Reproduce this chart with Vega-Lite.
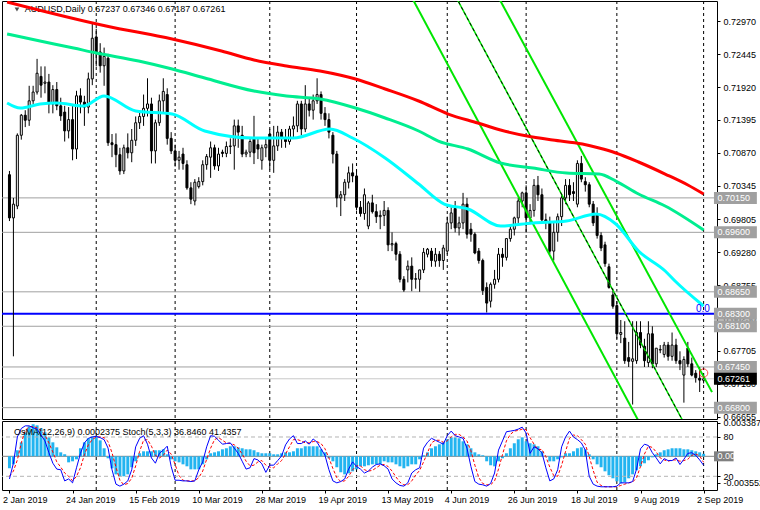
{
"$schema":"https://vega.github.io/schema/vega-lite/v6.json",
"padding":0,
"background":"white",
"spacing":2,
"bounds":"flush",
"config":{"view":{"stroke":"#000000","strokeWidth":1},"font":"Liberation Sans","axis":{"labelFont":"Liberation Sans","labelFontSize":9,"labelColor":"#000000","tickColor":"#000000","tickSize":3,"domain":false,"grid":false}},
"datasets":{
"months":[{"i":22},{"i":42},{"i":66},{"i":88},{"i":111},{"i":131},{"i":154},{"i":176}],
"levels":[{"v":0.7015,"t":"0.70150","kind":"level"},{"v":0.696,"t":"0.69600","kind":"level"},{"v":0.6865,"t":"0.68650","kind":"level"},{"v":0.683,"t":"0.68300","kind":"fib"},{"v":0.681,"t":"0.68100","kind":"level"},{"v":0.6745,"t":"0.67450","kind":"level"},{"v":0.668,"t":"0.66800","kind":"level"},{"v":0.67261,"t":"0.67261","kind":"price"}],
"chan":[{"ln":"a","i":100,"p":0.73588},{"ln":"a","i":162,"p":0.66293},{"ln":"b","i":122,"p":0.73585},{"ln":"b","i":178.125,"p":0.67048},{"ln":"c","i":111,"p":0.73618},{"ln":"c","i":173,"p":0.66322}],
"ma":[
{"ser":"slow","i":-0.6,"v":0.73278},{"ser":"slow","i":24.5,"v":0.72895},{"ser":"slow","i":41.25,"v":0.72687},{"ser":"slow","i":53.75,"v":0.72496},{"ser":"slow","i":62,"v":0.72352},{"ser":"slow","i":70.25,"v":0.72256},{"ser":"slow","i":78.75,"v":0.72176},{"ser":"slow","i":87.75,"v":0.72048},{"ser":"slow","i":95.25,"v":0.71889},{"ser":"slow","i":103.75,"v":0.71697},{"ser":"slow","i":111.25,"v":0.71489},{"ser":"slow","i":118.75,"v":0.71346},{"ser":"slow","i":124.5,"v":0.71234},{"ser":"slow","i":131.25,"v":0.71138},{"ser":"slow","i":137.75,"v":0.71074},{"ser":"slow","i":145.25,"v":0.7101},{"ser":"slow","i":149.5,"v":0.70946},{"ser":"slow","i":153.75,"v":0.70867},{"ser":"slow","i":159.5,"v":0.70723},{"ser":"slow","i":166.25,"v":0.70531},{"ser":"slow","i":172,"v":0.70356},{"ser":"slow","i":176,"v":0.70212},
{"ser":"mid","i":-0.6,"v":0.72767},{"ser":"mid","i":7.75,"v":0.72655},{"ser":"mid","i":16.25,"v":0.72543},{"ser":"mid","i":22,"v":0.72464},{"ser":"mid","i":32.75,"v":0.72336},{"ser":"mid","i":41.25,"v":0.72208},{"ser":"mid","i":49.5,"v":0.72064},{"ser":"mid","i":62,"v":0.71857},{"ser":"mid","i":70.25,"v":0.71777},{"ser":"mid","i":78.75,"v":0.71729},{"ser":"mid","i":87.75,"v":0.71585},{"ser":"mid","i":95.25,"v":0.71426},{"ser":"mid","i":103.75,"v":0.71218},{"ser":"mid","i":108.75,"v":0.71058},{"ser":"mid","i":116.25,"v":0.7093},{"ser":"mid","i":124.5,"v":0.70707},{"ser":"mid","i":132.75,"v":0.70627},{"ser":"mid","i":141.25,"v":0.70547},{"ser":"mid","i":149.5,"v":0.70531},{"ser":"mid","i":153.75,"v":0.70419},{"ser":"mid","i":159.5,"v":0.70212},{"ser":"mid","i":166.25,"v":0.7002},{"ser":"mid","i":176,"v":0.69637},
{"ser":"fast","i":-0.6,"v":0.71665},{"ser":"fast","i":2.75,"v":0.71585},{"ser":"fast","i":7.75,"v":0.71649},{"ser":"fast","i":12,"v":0.71665},{"ser":"fast","i":18.75,"v":0.71617},{"ser":"fast","i":24,"v":0.71777},{"ser":"fast","i":32,"v":0.71537},{"ser":"fast","i":41.25,"v":0.71489},{"ser":"fast","i":49.5,"v":0.71218},{"ser":"fast","i":62,"v":0.71106},{"ser":"fast","i":72,"v":0.71106},{"ser":"fast","i":81.25,"v":0.7125},{"ser":"fast","i":87,"v":0.71106},{"ser":"fast","i":95.25,"v":0.70787},{"ser":"fast","i":103.75,"v":0.70372},{"ser":"fast","i":110.25,"v":0.70052},{"ser":"fast","i":116.25,"v":0.69972},{"ser":"fast","i":124.5,"v":0.69701},{"ser":"fast","i":132.75,"v":0.69749},{"ser":"fast","i":141.25,"v":0.69781},{"ser":"fast","i":148.75,"v":0.69892},{"ser":"fast","i":153.75,"v":0.69733},{"ser":"fast","i":159.5,"v":0.69301},{"ser":"fast","i":166.25,"v":0.68982},{"ser":"fast","i":168.75,"v":0.68822},{"ser":"fast","i":176,"v":0.68423}
],
"bars":[
{"i":0,"o":0.7052,"h":0.7058,"l":0.6978,"c":0.6983,"m":-0.00115,"k":16,"s":20},
{"i":1,"o":0.6983,"h":0.7015,"l":0.6762,"c":0.7005,"m":-0.00077,"k":40,"s":28},
{"i":2,"o":0.7002,"h":0.7118,"l":0.6997,"c":0.7115,"m":0.00058,"k":80,"s":45},
{"i":3,"o":0.7115,"h":0.7149,"l":0.7108,"c":0.7147,"m":0.00134,"k":93,"s":71},
{"i":4,"o":0.7147,"h":0.7155,"l":0.7128,"c":0.7139,"m":0.0023,"k":97,"s":90},
{"i":5,"o":0.7139,"h":0.7194,"l":0.713,"c":0.717,"m":0.00288,"k":97,"s":96},
{"i":6,"o":0.717,"h":0.7194,"l":0.7165,"c":0.7184,"m":0.00307,"k":94,"s":96},
{"i":7,"o":0.7184,"h":0.7237,"l":0.718,"c":0.7214,"m":0.00297,"k":92,"s":94},
{"i":8,"o":0.7209,"h":0.7225,"l":0.7175,"c":0.7195,"m":0.00269,"k":83,"s":90},
{"i":9,"o":0.7198,"h":0.7225,"l":0.7182,"c":0.72,"m":0.0023,"k":74,"s":83},
{"i":10,"o":0.72,"h":0.7213,"l":0.715,"c":0.7165,"m":0.00182,"k":56,"s":71},
{"i":11,"o":0.7165,"h":0.7195,"l":0.715,"c":0.7188,"m":0.00134,"k":40,"s":57},
{"i":12,"o":0.7188,"h":0.72,"l":0.7155,"c":0.7162,"m":0.00086,"k":31,"s":42},
{"i":13,"o":0.7162,"h":0.7175,"l":0.7138,"c":0.7146,"m":0.00038,"k":30,"s":34},
{"i":14,"o":0.7152,"h":0.7162,"l":0.7105,"c":0.7122,"m":0.00019,"k":13,"s":25},
{"i":15,"o":0.7122,"h":0.716,"l":0.711,"c":0.714,"m":-0.00058,"k":16,"s":20},
{"i":16,"o":0.714,"h":0.7165,"l":0.7075,"c":0.7093,"m":-0.00048,"k":10,"s":13},
{"i":17,"o":0.7093,"h":0.7186,"l":0.7077,"c":0.7178,"m":-0.00029,"k":33,"s":20},
{"i":18,"o":0.7178,"h":0.719,"l":0.715,"c":0.7168,"m":0.00077,"k":55,"s":33},
{"i":19,"o":0.7168,"h":0.7178,"l":0.713,"c":0.716,"m":0.00134,"k":71,"s":53},
{"i":20,"o":0.716,"h":0.7215,"l":0.715,"c":0.7205,"m":0.00173,"k":78,"s":68},
{"i":21,"o":0.7205,"h":0.7294,"l":0.7195,"c":0.727,"m":0.00192,"k":80,"s":76},
{"i":22,"o":0.7272,"h":0.7285,"l":0.7225,"c":0.7245,"m":0.00192,"k":81,"s":80},
{"i":23,"o":0.7248,"h":0.7262,"l":0.7215,"c":0.7226,"m":0.00153,"k":79,"s":80},
{"i":24,"o":0.7226,"h":0.7255,"l":0.7194,"c":0.7241,"m":0.00077,"k":76,"s":79},
{"i":25,"o":0.7238,"h":0.7245,"l":0.7098,"c":0.7103,"m":-0.00019,"k":63,"s":73},
{"i":26,"o":0.7103,"h":0.7117,"l":0.708,"c":0.71,"m":-0.00115,"k":30,"s":56},
{"i":27,"o":0.71,"h":0.7118,"l":0.7064,"c":0.7084,"m":-0.00173,"k":8,"s":34},
{"i":28,"o":0.7084,"h":0.7095,"l":0.7052,"c":0.7058,"m":-0.00192,"k":5,"s":14},
{"i":29,"o":0.7058,"h":0.71,"l":0.7053,"c":0.7095,"m":-0.00192,"k":8,"s":7},
{"i":30,"o":0.7095,"h":0.7118,"l":0.7078,"c":0.7087,"m":-0.00173,"k":13,"s":9},
{"i":31,"o":0.7087,"h":0.7125,"l":0.7072,"c":0.7107,"m":-0.00105,"k":30,"s":17},
{"i":32,"o":0.7107,"h":0.7145,"l":0.7098,"c":0.7135,"m":-0.00048,"k":65,"s":36},
{"i":33,"o":0.7135,"h":0.7155,"l":0.7125,"c":0.7145,"m":0.00029,"k":78,"s":58},
{"i":34,"o":0.7145,"h":0.718,"l":0.713,"c":0.7158,"m":0.00048,"k":82,"s":75},
{"i":35,"o":0.7158,"h":0.7206,"l":0.7145,"c":0.7165,"m":0.00048,"k":69,"s":76},
{"i":36,"o":0.7165,"h":0.7175,"l":0.707,"c":0.709,"m":0.00048,"k":48,"s":66},
{"i":37,"o":0.709,"h":0.714,"l":0.707,"c":0.7135,"m":0.00058,"k":40,"s":52},
{"i":38,"o":0.7135,"h":0.718,"l":0.713,"c":0.717,"m":0.00058,"k":55,"s":48},
{"i":39,"o":0.717,"h":0.7206,"l":0.715,"c":0.7185,"m":0.00067,"k":60,"s":52},
{"i":40,"o":0.718,"h":0.719,"l":0.71,"c":0.711,"m":0.00019,"k":66,"s":60},
{"i":41,"o":0.711,"h":0.712,"l":0.7085,"c":0.709,"m":-0.00029,"k":35,"s":54},
{"i":42,"o":0.709,"h":0.71,"l":0.7065,"c":0.7075,"m":-0.00048,"k":14,"s":38},
{"i":43,"o":0.7075,"h":0.709,"l":0.706,"c":0.708,"m":-0.00058,"k":14,"s":21},
{"i":44,"o":0.7085,"h":0.7095,"l":0.706,"c":0.707,"m":-0.00077,"k":13,"s":14},
{"i":45,"o":0.7068,"h":0.7075,"l":0.7028,"c":0.7031,"m":-0.00096,"k":13,"s":13},
{"i":46,"o":0.7031,"h":0.704,"l":0.7005,"c":0.7013,"m":-0.00125,"k":12,"s":13},
{"i":47,"o":0.701,"h":0.7045,"l":0.7003,"c":0.704,"m":-0.00125,"k":13,"s":13},
{"i":48,"o":0.7033,"h":0.7048,"l":0.703,"c":0.7041,"m":-0.00125,"k":30,"s":18},
{"i":49,"o":0.7041,"h":0.7075,"l":0.7035,"c":0.7068,"m":-0.00077,"k":42,"s":28},
{"i":50,"o":0.7068,"h":0.7085,"l":0.706,"c":0.7081,"m":-0.00029,"k":65,"s":46},
{"i":51,"o":0.708,"h":0.7105,"l":0.7047,"c":0.7095,"m":0.00029,"k":82,"s":63},
{"i":52,"o":0.7095,"h":0.71,"l":0.706,"c":0.7066,"m":0.00038,"k":81,"s":76},
{"i":53,"o":0.7066,"h":0.7095,"l":0.7058,"c":0.7085,"m":0.00048,"k":75,"s":79},
{"i":54,"o":0.7088,"h":0.7092,"l":0.708,"c":0.7086,"m":0.00067,"k":69,"s":75},
{"i":55,"o":0.7086,"h":0.7105,"l":0.708,"c":0.7097,"m":0.00077,"k":70,"s":71},
{"i":56,"o":0.7097,"h":0.711,"l":0.7085,"c":0.7098,"m":0.00096,"k":71,"s":70},
{"i":57,"o":0.7098,"h":0.714,"l":0.706,"c":0.713,"m":0.00096,"k":63,"s":68},
{"i":58,"o":0.713,"h":0.714,"l":0.7095,"c":0.712,"m":0.00086,"k":55,"s":63},
{"i":59,"o":0.7115,"h":0.713,"l":0.708,"c":0.7085,"m":0.00077,"k":43,"s":54},
{"i":60,"o":0.7085,"h":0.7092,"l":0.708,"c":0.7088,"m":0.00067,"k":31,"s":43},
{"i":61,"o":0.7088,"h":0.711,"l":0.708,"c":0.7105,"m":0.00067,"k":33,"s":36},
{"i":62,"o":0.711,"h":0.7146,"l":0.7069,"c":0.7087,"m":0.00058,"k":47,"s":37},
{"i":63,"o":0.71,"h":0.711,"l":0.7077,"c":0.7093,"m":0.00038,"k":45,"s":42},
{"i":64,"o":0.7075,"h":0.71,"l":0.706,"c":0.7095,"m":0.00029,"k":39,"s":44},
{"i":65,"o":0.7095,"h":0.711,"l":0.708,"c":0.71,"m":0.00029,"k":26,"s":37},
{"i":66,"o":0.7117,"h":0.7125,"l":0.706,"c":0.7075,"m":0.00029,"k":37,"s":34},
{"i":67,"o":0.7075,"h":0.713,"l":0.7055,"c":0.7098,"m":0.00019,"k":37,"s":33},
{"i":68,"o":0.7098,"h":0.713,"l":0.709,"c":0.712,"m":0.00019,"k":44,"s":39},
{"i":69,"o":0.712,"h":0.7125,"l":0.7095,"c":0.711,"m":0.00029,"k":51,"s":44},
{"i":70,"o":0.711,"h":0.7125,"l":0.7095,"c":0.7105,"m":0.00038,"k":68,"s":54},
{"i":71,"o":0.7105,"h":0.713,"l":0.71,"c":0.7125,"m":0.00038,"k":77,"s":65},
{"i":72,"o":0.7125,"h":0.7145,"l":0.711,"c":0.713,"m":0.00048,"k":82,"s":76},
{"i":73,"o":0.713,"h":0.717,"l":0.712,"c":0.7165,"m":0.00077,"k":70,"s":76},
{"i":74,"o":0.7165,"h":0.717,"l":0.7115,"c":0.7125,"m":0.00077,"k":70,"s":74},
{"i":75,"o":0.7125,"h":0.7195,"l":0.712,"c":0.7165,"m":0.00096,"k":74,"s":71},
{"i":76,"o":0.7165,"h":0.7175,"l":0.7145,"c":0.7155,"m":0.00096,"k":69,"s":71},
{"i":77,"o":0.7155,"h":0.718,"l":0.714,"c":0.717,"m":0.00096,"k":77,"s":73},
{"i":78,"o":0.717,"h":0.7206,"l":0.7165,"c":0.718,"m":0.00096,"k":72,"s":73},
{"i":79,"o":0.718,"h":0.7185,"l":0.714,"c":0.715,"m":0.00067,"k":62,"s":70},
{"i":80,"o":0.715,"h":0.716,"l":0.713,"c":0.714,"m":0.00038,"k":52,"s":62},
{"i":81,"o":0.714,"h":0.715,"l":0.711,"c":0.712,"m":-0.00019,"k":30,"s":48},
{"i":82,"o":0.7115,"h":0.712,"l":0.707,"c":0.7085,"m":-0.00048,"k":13,"s":32},
{"i":83,"o":0.7085,"h":0.709,"l":0.7,"c":0.7015,"m":-0.00105,"k":10,"s":18},
{"i":84,"o":0.7015,"h":0.7026,"l":0.6986,"c":0.702,"m":-0.00153,"k":12,"s":12},
{"i":85,"o":0.702,"h":0.7045,"l":0.701,"c":0.704,"m":-0.00173,"k":16,"s":13},
{"i":86,"o":0.704,"h":0.7065,"l":0.703,"c":0.7055,"m":-0.00163,"k":31,"s":20},
{"i":87,"o":0.7055,"h":0.707,"l":0.704,"c":0.705,"m":-0.00144,"k":42,"s":30},
{"i":88,"o":0.705,"h":0.706,"l":0.6995,"c":0.7,"m":-0.00125,"k":35,"s":36},
{"i":89,"o":0.7,"h":0.701,"l":0.6985,"c":0.699,"m":-0.00096,"k":31,"s":36},
{"i":90,"o":0.699,"h":0.703,"l":0.698,"c":0.702,"m":-0.00096,"k":25,"s":30},
{"i":91,"o":0.697,"h":0.701,"l":0.6965,"c":0.7007,"m":-0.00086,"k":28,"s":28},
{"i":92,"o":0.7007,"h":0.702,"l":0.699,"c":0.6993,"m":-0.00077,"k":34,"s":29},
{"i":93,"o":0.6993,"h":0.7005,"l":0.6975,"c":0.6985,"m":-0.00077,"k":38,"s":33},
{"i":94,"o":0.6985,"h":0.6995,"l":0.6965,"c":0.6987,"m":-0.00077,"k":39,"s":37},
{"i":95,"o":0.6987,"h":0.701,"l":0.697,"c":0.6995,"m":-0.00048,"k":36,"s":38},
{"i":96,"o":0.6995,"h":0.7,"l":0.693,"c":0.694,"m":-0.00058,"k":31,"s":35},
{"i":97,"o":0.694,"h":0.696,"l":0.693,"c":0.6942,"m":-0.00058,"k":16,"s":28},
{"i":98,"o":0.6942,"h":0.6945,"l":0.6915,"c":0.6925,"m":-0.00077,"k":10,"s":19},
{"i":99,"o":0.6925,"h":0.693,"l":0.688,"c":0.6885,"m":-0.00096,"k":6,"s":11},
{"i":100,"o":0.6885,"h":0.689,"l":0.6865,"c":0.6868,"m":-0.00115,"k":5,"s":7},
{"i":101,"o":0.69,"h":0.6915,"l":0.688,"c":0.6906,"m":-0.00096,"k":10,"s":7},
{"i":102,"o":0.6906,"h":0.692,"l":0.6866,"c":0.6885,"m":-0.00077,"k":25,"s":13},
{"i":103,"o":0.6885,"h":0.6895,"l":0.687,"c":0.6886,"m":-0.00077,"k":30,"s":22},
{"i":104,"o":0.6885,"h":0.69,"l":0.6865,"c":0.69,"m":-0.00029,"k":33,"s":29},
{"i":105,"o":0.69,"h":0.6935,"l":0.6895,"c":0.6928,"m":0.0001,"k":63,"s":42},
{"i":106,"o":0.6925,"h":0.6935,"l":0.692,"c":0.6933,"m":0.00038,"k":72,"s":56},
{"i":107,"o":0.693,"h":0.6935,"l":0.6905,"c":0.6915,"m":0.00077,"k":78,"s":71},
{"i":108,"o":0.6914,"h":0.6935,"l":0.6905,"c":0.6925,"m":0.00096,"k":75,"s":75},
{"i":109,"o":0.6925,"h":0.693,"l":0.6905,"c":0.6915,"m":0.00115,"k":72,"s":75},
{"i":110,"o":0.6915,"h":0.694,"l":0.69,"c":0.6935,"m":0.00134,"k":69,"s":72},
{"i":111,"o":0.693,"h":0.6985,"l":0.6925,"c":0.6975,"m":0.00163,"k":82,"s":74},
{"i":112,"o":0.6975,"h":0.7,"l":0.6965,"c":0.6991,"m":0.00182,"k":89,"s":80},
{"i":113,"o":0.6998,"h":0.701,"l":0.696,"c":0.6967,"m":0.00182,"k":82,"s":84},
{"i":114,"o":0.6967,"h":0.6985,"l":0.6955,"c":0.6975,"m":0.00173,"k":80,"s":84},
{"i":115,"o":0.6975,"h":0.7023,"l":0.6965,"c":0.7005,"m":0.00144,"k":78,"s":80},
{"i":116,"o":0.7005,"h":0.7015,"l":0.695,"c":0.6957,"m":0.00115,"k":63,"s":74},
{"i":117,"o":0.6965,"h":0.6975,"l":0.6945,"c":0.6957,"m":0.00077,"k":35,"s":59},
{"i":118,"o":0.6957,"h":0.696,"l":0.6925,"c":0.6927,"m":0.00038,"k":12,"s":37},
{"i":119,"o":0.693,"h":0.6935,"l":0.691,"c":0.6915,"m":0.00019,"k":8,"s":18},
{"i":120,"o":0.6915,"h":0.6918,"l":0.686,"c":0.6867,"m":0.0001,"k":7,"s":9},
{"i":121,"o":0.6872,"h":0.688,"l":0.6832,"c":0.6847,"m":-0.00048,"k":5,"s":7},
{"i":122,"o":0.685,"h":0.688,"l":0.684,"c":0.6877,"m":-0.00086,"k":9,"s":7},
{"i":123,"o":0.6877,"h":0.69,"l":0.687,"c":0.6885,"m":-0.00096,"k":25,"s":13},
{"i":124,"o":0.6885,"h":0.6935,"l":0.688,"c":0.6925,"m":-0.00048,"k":60,"s":31},
{"i":125,"o":0.6925,"h":0.6935,"l":0.6905,"c":0.692,"m":-0.00019,"k":74,"s":53},
{"i":126,"o":0.692,"h":0.695,"l":0.6915,"c":0.695,"m":0.00029,"k":88,"s":74},
{"i":127,"o":0.695,"h":0.697,"l":0.6945,"c":0.6965,"m":0.00077,"k":89,"s":84},
{"i":128,"o":0.6965,"h":0.6985,"l":0.6955,"c":0.6983,"m":0.00125,"k":90,"s":89},
{"i":129,"o":0.6983,"h":0.7015,"l":0.6975,"c":0.701,"m":0.00163,"k":92,"s":90},
{"i":130,"o":0.701,"h":0.7025,"l":0.7,"c":0.7023,"m":0.00182,"k":95,"s":92},
{"i":131,"o":0.7023,"h":0.7035,"l":0.696,"c":0.6983,"m":0.00144,"k":86,"s":91},
{"i":132,"o":0.6983,"h":0.7005,"l":0.6975,"c":0.6995,"m":0.00125,"k":55,"s":79},
{"i":133,"o":0.6995,"h":0.7045,"l":0.6985,"c":0.7035,"m":0.00115,"k":65,"s":69},
{"i":134,"o":0.7035,"h":0.705,"l":0.701,"c":0.702,"m":0.00096,"k":62,"s":61},
{"i":135,"o":0.702,"h":0.703,"l":0.6975,"c":0.698,"m":0.00048,"k":56,"s":61},
{"i":136,"o":0.698,"h":0.699,"l":0.6965,"c":0.6978,"m":0,"k":33,"s":50},
{"i":137,"o":0.6975,"h":0.6985,"l":0.6925,"c":0.693,"m":-0.00048,"k":13,"s":34},
{"i":138,"o":0.693,"h":0.6975,"l":0.6915,"c":0.696,"m":-0.00048,"k":16,"s":21},
{"i":139,"o":0.696,"h":0.699,"l":0.6945,"c":0.6985,"m":-0.00029,"k":30,"s":20},
{"i":140,"o":0.6985,"h":0.702,"l":0.697,"c":0.7015,"m":-0.0001,"k":65,"s":37},
{"i":141,"o":0.7015,"h":0.7045,"l":0.7005,"c":0.7035,"m":0.00029,"k":80,"s":58},
{"i":142,"o":0.7035,"h":0.7045,"l":0.701,"c":0.702,"m":0.00029,"k":89,"s":78},
{"i":143,"o":0.7025,"h":0.704,"l":0.701,"c":0.7022,"m":0.00048,"k":80,"s":83},
{"i":144,"o":0.7005,"h":0.7075,"l":0.7,"c":0.707,"m":0.00077,"k":76,"s":82},
{"i":145,"o":0.707,"h":0.7082,"l":0.704,"c":0.7045,"m":0.00086,"k":71,"s":76},
{"i":146,"o":0.7041,"h":0.7048,"l":0.7025,"c":0.7036,"m":0.00067,"k":60,"s":69},
{"i":147,"o":0.7036,"h":0.704,"l":0.7,"c":0.7005,"m":0.00019,"k":20,"s":50},
{"i":148,"o":0.7005,"h":0.701,"l":0.697,"c":0.6975,"m":-0.00029,"k":8,"s":29},
{"i":149,"o":0.699,"h":0.7,"l":0.695,"c":0.6955,"m":-0.00077,"k":5,"s":11},
{"i":150,"o":0.6955,"h":0.696,"l":0.693,"c":0.6935,"m":-0.00105,"k":4,"s":6},
{"i":151,"o":0.694,"h":0.6945,"l":0.6905,"c":0.691,"m":-0.00144,"k":4,"s":4},
{"i":152,"o":0.6905,"h":0.691,"l":0.687,"c":0.6872,"m":-0.00182,"k":4,"s":4},
{"i":153,"o":0.686,"h":0.687,"l":0.6838,"c":0.6842,"m":-0.00211,"k":4,"s":4},
{"i":154,"o":0.6843,"h":0.685,"l":0.679,"c":0.6798,"m":-0.0024,"k":5,"s":4},
{"i":155,"o":0.6797,"h":0.682,"l":0.6783,"c":0.68,"m":-0.00259,"k":10,"s":6},
{"i":156,"o":0.6791,"h":0.6818,"l":0.675,"c":0.6755,"m":-0.00249,"k":10,"s":8},
{"i":157,"o":0.676,"h":0.6785,"l":0.6745,"c":0.6754,"m":-0.00211,"k":10,"s":10},
{"i":158,"o":0.6754,"h":0.6818,"l":0.6685,"c":0.6758,"m":-0.00173,"k":12,"s":11},
{"i":159,"o":0.6755,"h":0.6818,"l":0.675,"c":0.68,"m":-0.00134,"k":31,"s":18},
{"i":160,"o":0.68,"h":0.6818,"l":0.6775,"c":0.678,"m":-0.00096,"k":62,"s":35},
{"i":161,"o":0.6778,"h":0.679,"l":0.6745,"c":0.6755,"m":-0.00067,"k":69,"s":54},
{"i":162,"o":0.6752,"h":0.6818,"l":0.6745,"c":0.6798,"m":-0.00038,"k":67,"s":66},
{"i":163,"o":0.6798,"h":0.681,"l":0.6743,"c":0.675,"m":-0.0001,"k":56,"s":64},
{"i":164,"o":0.675,"h":0.6775,"l":0.6745,"c":0.6775,"m":0.00019,"k":48,"s":57},
{"i":165,"o":0.6772,"h":0.678,"l":0.6767,"c":0.6773,"m":0.00038,"k":39,"s":48},
{"i":166,"o":0.6765,"h":0.6785,"l":0.676,"c":0.678,"m":0.00058,"k":47,"s":45},
{"i":167,"o":0.678,"h":0.6785,"l":0.6755,"c":0.6762,"m":0.00067,"k":44,"s":43},
{"i":168,"o":0.6762,"h":0.68,"l":0.6755,"c":0.678,"m":0.00077,"k":44,"s":45},
{"i":169,"o":0.678,"h":0.679,"l":0.675,"c":0.6755,"m":0.00077,"k":48,"s":45},
{"i":170,"o":0.6755,"h":0.677,"l":0.674,"c":0.675,"m":0.00077,"k":38,"s":43},
{"i":171,"o":0.6732,"h":0.6762,"l":0.6688,"c":0.6757,"m":0.00067,"k":46,"s":44},
{"i":172,"o":0.6775,"h":0.6785,"l":0.6745,"c":0.675,"m":0.00067,"k":55,"s":46},
{"i":173,"o":0.675,"h":0.676,"l":0.673,"c":0.6732,"m":0.00058,"k":56,"s":52},
{"i":174,"o":0.6735,"h":0.674,"l":0.672,"c":0.6728,"m":0.00048,"k":52,"s":54},
{"i":175,"o":0.6727,"h":0.6745,"l":0.6705,"c":0.6724,"m":0.00038,"k":45,"s":51},
{"i":176,"o":0.67237,"h":0.67346,"l":0.67187,"c":0.67261,"m":0.0002375,"k":36.846,"s":41.4357}
]
},
"vconcat":[
{
"width":715,"height":418,
"layer":[
{"data":{"name":"months"},"mark":{"type":"rule","color":"#000000","strokeWidth":1,"strokeDash":[3,3]},"encoding":{"x":{"field":"i","type":"quantitative","scale":{"domain":[-0.625,178.125],"nice":false,"zero":false},"axis":null}}},
{"data":{"name":"levels"},"transform":[{"filter":"datum.kind=='level'"}],"mark":{"type":"rule","color":"#a0a0a0","strokeWidth":1},"encoding":{"y":{"field":"v","type":"quantitative","scale":{"domain":[0.66619,0.73294],"nice":false,"zero":false},"axis":{"orient":"right","values":[0.7297,0.72445,0.7192,0.71395,0.7087,0.70345,0.69805,0.6928,0.68755,0.6823,0.67705,0.6718,0.66655],"format":".5f","labelPadding":3,"tickSize":3,"labelOverlap":false,"labelBound":false,"title":null}}}},
{"data":{"name":"levels"},"transform":[{"filter":"datum.kind=='price'"}],"mark":{"type":"rule","color":"#c8c8c8","strokeWidth":1},"encoding":{"y":{"field":"v","type":"quantitative","scale":{"domain":[0.66619,0.73294],"nice":false,"zero":false},"axis":{"orient":"right","values":[0.7297,0.72445,0.7192,0.71395,0.7087,0.70345,0.69805,0.6928,0.68755,0.6823,0.67705,0.6718,0.66655],"format":".5f","labelPadding":3,"tickSize":3,"labelOverlap":false,"labelBound":false,"title":null}}}},
{"data":{"name":"levels"},"transform":[{"filter":"datum.kind=='fib'"}],"mark":{"type":"rule","color":"#0000ff","strokeWidth":2},"encoding":{"y":{"field":"v","type":"quantitative","scale":{"domain":[0.66619,0.73294],"nice":false,"zero":false},"axis":{"orient":"right","values":[0.7297,0.72445,0.7192,0.71395,0.7087,0.70345,0.69805,0.6928,0.68755,0.6823,0.67705,0.6718,0.66655],"format":".5f","labelPadding":3,"tickSize":3,"labelOverlap":false,"labelBound":false,"title":null}}}},
{"data":{"name":"bars"},"mark":{"type":"rule","color":"#000000","strokeWidth":1},"encoding":{"x":{"field":"i","type":"quantitative","scale":{"domain":[-0.625,178.125],"nice":false,"zero":false},"axis":null},"y":{"field":"l","type":"quantitative","scale":{"domain":[0.66619,0.73294],"nice":false,"zero":false},"axis":{"orient":"right","values":[0.7297,0.72445,0.7192,0.71395,0.7087,0.70345,0.69805,0.6928,0.68755,0.6823,0.67705,0.6718,0.66655],"format":".5f","labelPadding":3,"tickSize":3,"labelOverlap":false,"labelBound":false,"title":null}},"y2":{"field":"h"}}},
{"data":{"name":"bars"},"mark":{"type":"bar","width":2,"stroke":"#000000","strokeWidth":1},"encoding":{"x":{"field":"i","type":"quantitative","scale":{"domain":[-0.625,178.125],"nice":false,"zero":false},"axis":null},"y":{"field":"o","type":"quantitative","scale":{"domain":[0.66619,0.73294],"nice":false,"zero":false},"axis":{"orient":"right","values":[0.7297,0.72445,0.7192,0.71395,0.7087,0.70345,0.69805,0.6928,0.68755,0.6823,0.67705,0.6718,0.66655],"format":".5f","labelPadding":3,"tickSize":3,"labelOverlap":false,"labelBound":false,"title":null}},"y2":{"field":"c"},"fill":{"condition":{"test":"datum.c>=datum.o","value":"#ffffff"},"value":"#000000"}}},
{"data":{"name":"chan"},"transform":[{"filter":"datum.ln!='c'"}],"mark":{"type":"line","clip":true,"color":"#00e600","strokeWidth":2},"encoding":{"x":{"field":"i","type":"quantitative","scale":{"domain":[-0.625,178.125],"nice":false,"zero":false},"axis":null},"y":{"field":"p","type":"quantitative","scale":{"domain":[0.66619,0.73294],"nice":false,"zero":false},"axis":{"orient":"right","values":[0.7297,0.72445,0.7192,0.71395,0.7087,0.70345,0.69805,0.6928,0.68755,0.6823,0.67705,0.6718,0.66655],"format":".5f","labelPadding":3,"tickSize":3,"labelOverlap":false,"labelBound":false,"title":null}},"detail":{"field":"ln"}}},
{"data":{"name":"chan"},"transform":[{"filter":"datum.ln=='c'"}],"mark":{"type":"line","clip":true,"color":"#00e600","strokeWidth":1.5},"encoding":{"x":{"field":"i","type":"quantitative","scale":{"domain":[-0.625,178.125],"nice":false,"zero":false},"axis":null},"y":{"field":"p","type":"quantitative","scale":{"domain":[0.66619,0.73294],"nice":false,"zero":false},"axis":{"orient":"right","values":[0.7297,0.72445,0.7192,0.71395,0.7087,0.70345,0.69805,0.6928,0.68755,0.6823,0.67705,0.6718,0.66655],"format":".5f","labelPadding":3,"tickSize":3,"labelOverlap":false,"labelBound":false,"title":null}}}},
{"data":{"name":"chan"},"transform":[{"filter":"datum.ln=='c'"}],"mark":{"type":"line","clip":true,"color":"#000000","strokeWidth":1,"strokeDash":[3,3]},"encoding":{"x":{"field":"i","type":"quantitative","scale":{"domain":[-0.625,178.125],"nice":false,"zero":false},"axis":null},"y":{"field":"p","type":"quantitative","scale":{"domain":[0.66619,0.73294],"nice":false,"zero":false},"axis":{"orient":"right","values":[0.7297,0.72445,0.7192,0.71395,0.7087,0.70345,0.69805,0.6928,0.68755,0.6823,0.67705,0.6718,0.66655],"format":".5f","labelPadding":3,"tickSize":3,"labelOverlap":false,"labelBound":false,"title":null}}}},
{"data":{"values":[{"t":"AUDUSD,Daily  0.67237 0.67346 0.67187 0.67261"}]},"mark":{"type":"text","align":"left","baseline":"middle","fontSize":9,"color":"#000000"},"encoding":{"x":{"datum":3.875,"type":"quantitative","scale":{"domain":[-0.625,178.125],"nice":false,"zero":false},"axis":null},"y":{"datum":0.73166,"type":"quantitative","scale":{"domain":[0.66619,0.73294],"nice":false,"zero":false},"axis":{"orient":"right","values":[0.7297,0.72445,0.7192,0.71395,0.7087,0.70345,0.69805,0.6928,0.68755,0.6823,0.67705,0.6718,0.66655],"format":".5f","labelPadding":3,"tickSize":3,"labelOverlap":false,"labelBound":false,"title":null}},"text":{"field":"t"}}},
{"data":{"values":[{"t":"x"}]},"mark":{"type":"point","shape":"triangle-down","filled":true,"color":"#000000","size":22},"encoding":{"x":{"datum":1.9,"type":"quantitative","scale":{"domain":[-0.625,178.125],"nice":false,"zero":false},"axis":null},"y":{"datum":0.73158,"type":"quantitative","scale":{"domain":[0.66619,0.73294],"nice":false,"zero":false},"axis":{"orient":"right","values":[0.7297,0.72445,0.7192,0.71395,0.7087,0.70345,0.69805,0.6928,0.68755,0.6823,0.67705,0.6718,0.66655],"format":".5f","labelPadding":3,"tickSize":3,"labelOverlap":false,"labelBound":false,"title":null}}}},
{"data":{"name":"ma"},"mark":{"type":"line","strokeWidth":3,"interpolate":"monotone","clip":true},"encoding":{"x":{"field":"i","type":"quantitative","scale":{"domain":[-0.625,178.125],"nice":false,"zero":false},"axis":null},"y":{"field":"v","type":"quantitative","scale":{"domain":[0.66619,0.73294],"nice":false,"zero":false},"axis":{"orient":"right","values":[0.7297,0.72445,0.7192,0.71395,0.7087,0.70345,0.69805,0.6928,0.68755,0.6823,0.67705,0.6718,0.66655],"format":".5f","labelPadding":3,"tickSize":3,"labelOverlap":false,"labelBound":false,"title":null}},"color":{"field":"ser","type":"nominal","scale":{"domain":["slow","mid","fast"],"range":["#ff0000","#00ee90","#00ffff"]},"legend":null}}},
{"data":{"name":"levels"},"mark":{"type":"rect","height":12,"clip":false},"encoding":{"x":{"datum":178.625,"type":"quantitative","scale":{"domain":[-0.625,178.125],"nice":false,"zero":false},"axis":null},"x2":{"datum":189.5},"y":{"field":"v","type":"quantitative","scale":{"domain":[0.66619,0.73294],"nice":false,"zero":false},"axis":{"orient":"right","values":[0.7297,0.72445,0.7192,0.71395,0.7087,0.70345,0.69805,0.6928,0.68755,0.6823,0.67705,0.6718,0.66655],"format":".5f","labelPadding":3,"tickSize":3,"labelOverlap":false,"labelBound":false,"title":null}},"fill":{"field":"kind","type":"nominal","scale":{"domain":["level","fib","price"],"range":["#a0a0a0","#a0a0a0","#000000"]},"legend":null}}},
{"data":{"name":"levels"},"mark":{"type":"text","align":"left","baseline":"middle","fontSize":9,"color":"#ffffff","clip":false},"encoding":{"x":{"datum":179.5,"type":"quantitative","scale":{"domain":[-0.625,178.125],"nice":false,"zero":false},"axis":null},"y":{"field":"v","type":"quantitative","scale":{"domain":[0.66619,0.73294],"nice":false,"zero":false},"axis":{"orient":"right","values":[0.7297,0.72445,0.7192,0.71395,0.7087,0.70345,0.69805,0.6928,0.68755,0.6823,0.67705,0.6718,0.66655],"format":".5f","labelPadding":3,"tickSize":3,"labelOverlap":false,"labelBound":false,"title":null}},"text":{"field":"t"}}},
{"data":{"values":[{"t":"0.0"}]},"mark":{"type":"text","align":"right","baseline":"middle","fontSize":10,"color":"#0000ff","clip":false},"encoding":{"x":{"datum":177.6,"type":"quantitative","scale":{"domain":[-0.625,178.125],"nice":false,"zero":false},"axis":null},"y":{"datum":0.68375,"type":"quantitative","scale":{"domain":[0.66619,0.73294],"nice":false,"zero":false},"axis":{"orient":"right","values":[0.7297,0.72445,0.7192,0.71395,0.7087,0.70345,0.69805,0.6928,0.68755,0.6823,0.67705,0.6718,0.66655],"format":".5f","labelPadding":3,"tickSize":3,"labelOverlap":false,"labelBound":false,"title":null}},"text":{"field":"t"}}},
{"data":{"values":[{"t":"o"}]},"mark":{"type":"point","shape":"circle","filled":false,"color":"#ff0000","strokeWidth":1,"size":70},"encoding":{"x":{"datum":176,"type":"quantitative","scale":{"domain":[-0.625,178.125],"nice":false,"zero":false},"axis":null},"y":{"datum":0.67353,"type":"quantitative","scale":{"domain":[0.66619,0.73294],"nice":false,"zero":false},"axis":{"orient":"right","values":[0.7297,0.72445,0.7192,0.71395,0.7087,0.70345,0.69805,0.6928,0.68755,0.6823,0.67705,0.6718,0.66655],"format":".5f","labelPadding":3,"tickSize":3,"labelOverlap":false,"labelBound":false,"title":null}}}}
]
},
{
"width":715,"height":69,
"layer":[
{"layer":[
{"data":{"name":"months"},"mark":{"type":"rule","color":"#000000","strokeWidth":1,"strokeDash":[3,3]},"encoding":{"x":{"field":"i","type":"quantitative","scale":{"domain":[-0.625,178.125],"nice":false,"zero":false},"axis":{"orient":"bottom","values":[0,16,32,48,64,80,96,112,128,144,160,176],"labelExpr":"['2 Jan 2019','24 Jan 2019','15 Feb 2019','10 Mar 2019','28 Mar 2019','19 Apr 2019','13 May 2019','4 Jun 2019','26 Jun 2019','18 Jul 2019','9 Aug 2019','2 Sep 2019'][round(datum.value/16)]","labelAlign":"left","labelOffset":-7,"labelPadding":2,"tickSize":3,"labelOverlap":false,"labelFlush":false,"labelBound":false,"title":null}}}},
{"data":{"values":[{"z":0}]},"mark":{"type":"rule","color":"#808080","strokeWidth":1},"encoding":{"y":{"field":"z","type":"quantitative","scale":{"domain":[-0.003232,0.003385],"nice":false,"zero":false},"axis":null}}},
{"data":{"name":"bars"},"mark":{"type":"bar","width":3,"color":"#22b4f0"},"encoding":{"x":{"field":"i","type":"quantitative","scale":{"domain":[-0.625,178.125],"nice":false,"zero":false},"axis":{"orient":"bottom","values":[0,16,32,48,64,80,96,112,128,144,160,176],"labelExpr":"['2 Jan 2019','24 Jan 2019','15 Feb 2019','10 Mar 2019','28 Mar 2019','19 Apr 2019','13 May 2019','4 Jun 2019','26 Jun 2019','18 Jul 2019','9 Aug 2019','2 Sep 2019'][round(datum.value/16)]","labelAlign":"left","labelOffset":-7,"labelPadding":2,"tickSize":3,"labelOverlap":false,"labelFlush":false,"labelBound":false,"title":null}},"y":{"field":"m","type":"quantitative","scale":{"domain":[-0.003232,0.003385],"nice":false,"zero":false},"axis":null},"y2":{"datum":0}}}
]},
{"layer":[
{"data":{"values":[{"st":80},{"st":20}]},"mark":{"type":"rule","color":"#b4b4b4","strokeWidth":1,"strokeDash":[4,3]},"encoding":{"y":{"field":"st","type":"quantitative","scale":{"domain":[-0.9,104.4],"nice":false,"zero":false},"axis":{"orient":"right","values":[101.5,80,20,9.8],"labelExpr":"datum.value>100?'0.0033878':datum.value>50?'80':datum.value>15?'20':'-0.003552'","labelPadding":3,"tickSize":3,"labelOverlap":false,"labelBound":false,"title":null}}}},
{"data":{"name":"bars"},"mark":{"type":"line","color":"#ff0000","strokeWidth":1,"strokeDash":[3,2]},"encoding":{"x":{"field":"i","type":"quantitative","scale":{"domain":[-0.625,178.125],"nice":false,"zero":false},"axis":{"orient":"bottom","values":[0,16,32,48,64,80,96,112,128,144,160,176],"labelExpr":"['2 Jan 2019','24 Jan 2019','15 Feb 2019','10 Mar 2019','28 Mar 2019','19 Apr 2019','13 May 2019','4 Jun 2019','26 Jun 2019','18 Jul 2019','9 Aug 2019','2 Sep 2019'][round(datum.value/16)]","labelAlign":"left","labelOffset":-7,"labelPadding":2,"tickSize":3,"labelOverlap":false,"labelFlush":false,"labelBound":false,"title":null}},"y":{"field":"s","type":"quantitative","scale":{"domain":[-0.9,104.4],"nice":false,"zero":false},"axis":{"orient":"right","values":[101.5,80,20,9.8],"labelExpr":"datum.value>100?'0.0033878':datum.value>50?'80':datum.value>15?'20':'-0.003552'","labelPadding":3,"tickSize":3,"labelOverlap":false,"labelBound":false,"title":null}}}},
{"data":{"name":"bars"},"mark":{"type":"line","color":"#0000ff","strokeWidth":1},"encoding":{"x":{"field":"i","type":"quantitative","scale":{"domain":[-0.625,178.125],"nice":false,"zero":false},"axis":{"orient":"bottom","values":[0,16,32,48,64,80,96,112,128,144,160,176],"labelExpr":"['2 Jan 2019','24 Jan 2019','15 Feb 2019','10 Mar 2019','28 Mar 2019','19 Apr 2019','13 May 2019','4 Jun 2019','26 Jun 2019','18 Jul 2019','9 Aug 2019','2 Sep 2019'][round(datum.value/16)]","labelAlign":"left","labelOffset":-7,"labelPadding":2,"tickSize":3,"labelOverlap":false,"labelFlush":false,"labelBound":false,"title":null}},"y":{"field":"k","type":"quantitative","scale":{"domain":[-0.9,104.4],"nice":false,"zero":false},"axis":{"orient":"right","values":[101.5,80,20,9.8],"labelExpr":"datum.value>100?'0.0033878':datum.value>50?'80':datum.value>15?'20':'-0.003552'","labelPadding":3,"tickSize":3,"labelOverlap":false,"labelBound":false,"title":null}}}},
{"data":{"values":[{"t":"OsMA(12,26,9) 0.0002375  Stoch(5,3,3) 36.8460 41.4357"}]},"mark":{"type":"text","align":"left","baseline":"middle","fontSize":9,"color":"#000000"},"encoding":{"x":{"datum":1.125,"type":"quantitative","scale":{"domain":[-0.625,178.125],"nice":false,"zero":false},"axis":{"orient":"bottom","values":[0,16,32,48,64,80,96,112,128,144,160,176],"labelExpr":"['2 Jan 2019','24 Jan 2019','15 Feb 2019','10 Mar 2019','28 Mar 2019','19 Apr 2019','13 May 2019','4 Jun 2019','26 Jun 2019','18 Jul 2019','9 Aug 2019','2 Sep 2019'][round(datum.value/16)]","labelAlign":"left","labelOffset":-7,"labelPadding":2,"tickSize":3,"labelOverlap":false,"labelFlush":false,"labelBound":false,"title":null}},"y":{"datum":87.6,"type":"quantitative","scale":{"domain":[-0.9,104.4],"nice":false,"zero":false},"axis":{"orient":"right","values":[101.5,80,20,9.8],"labelExpr":"datum.value>100?'0.0033878':datum.value>50?'80':datum.value>15?'20':'-0.003552'","labelPadding":3,"tickSize":3,"labelOverlap":false,"labelBound":false,"title":null}},"text":{"field":"t"}}},
{"data":{"values":[{"t":"0.00"}]},"mark":{"type":"rect","height":10,"color":"#808080","clip":false},"encoding":{"x":{"datum":178.625,"type":"quantitative","scale":{"domain":[-0.625,178.125],"nice":false,"zero":false},"axis":{"orient":"bottom","values":[0,16,32,48,64,80,96,112,128,144,160,176],"labelExpr":"['2 Jan 2019','24 Jan 2019','15 Feb 2019','10 Mar 2019','28 Mar 2019','19 Apr 2019','13 May 2019','4 Jun 2019','26 Jun 2019','18 Jul 2019','9 Aug 2019','2 Sep 2019'][round(datum.value/16)]","labelAlign":"left","labelOffset":-7,"labelPadding":2,"tickSize":3,"labelOverlap":false,"labelFlush":false,"labelBound":false,"title":null}},"x2":{"datum":183.6},"y":{"datum":50.5,"type":"quantitative","scale":{"domain":[-0.9,104.4],"nice":false,"zero":false},"axis":{"orient":"right","values":[101.5,80,20,9.8],"labelExpr":"datum.value>100?'0.0033878':datum.value>50?'80':datum.value>15?'20':'-0.003552'","labelPadding":3,"tickSize":3,"labelOverlap":false,"labelBound":false,"title":null}}}},
{"data":{"values":[{"t":"0.00"}]},"mark":{"type":"text","align":"left","baseline":"middle","fontSize":9,"color":"#ffffff","clip":false},"encoding":{"x":{"datum":179.5,"type":"quantitative","scale":{"domain":[-0.625,178.125],"nice":false,"zero":false},"axis":{"orient":"bottom","values":[0,16,32,48,64,80,96,112,128,144,160,176],"labelExpr":"['2 Jan 2019','24 Jan 2019','15 Feb 2019','10 Mar 2019','28 Mar 2019','19 Apr 2019','13 May 2019','4 Jun 2019','26 Jun 2019','18 Jul 2019','9 Aug 2019','2 Sep 2019'][round(datum.value/16)]","labelAlign":"left","labelOffset":-7,"labelPadding":2,"tickSize":3,"labelOverlap":false,"labelFlush":false,"labelBound":false,"title":null}},"y":{"datum":50.5,"type":"quantitative","scale":{"domain":[-0.9,104.4],"nice":false,"zero":false},"axis":{"orient":"right","values":[101.5,80,20,9.8],"labelExpr":"datum.value>100?'0.0033878':datum.value>50?'80':datum.value>15?'20':'-0.003552'","labelPadding":3,"tickSize":3,"labelOverlap":false,"labelBound":false,"title":null}},"text":{"field":"t"}}}
]}
],
"resolve":{"scale":{"y":"independent"}}
}
]
}
